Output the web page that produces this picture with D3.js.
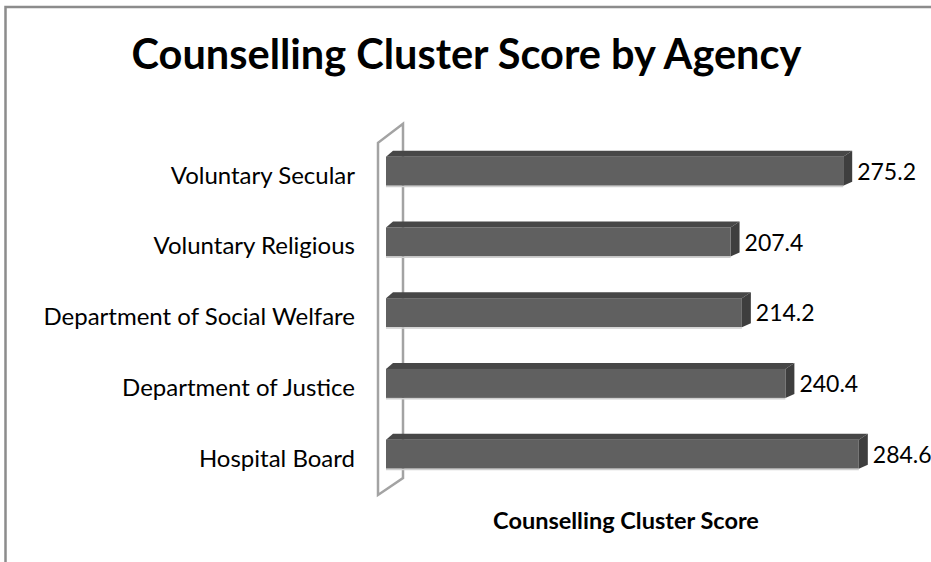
<!DOCTYPE html>
<html>
<head>
<meta charset="utf-8">
<script src="https://cdn.jsdelivr.net/npm/d3@7"></script>
<style>
  html, body { margin: 0; padding: 0; background: #fff; }
  svg { display: block; }
</style>
</head>
<body>
<svg id="chart" width="931" height="562"></svg>
<script>
// ---- data ----
const categories = ["Voluntary Secular", "Voluntary Religious", "Department of Social Welfare", "Department of Justice", "Hospital Board"];
const values = [275.2, 207.4, 214.2, 240.4, 284.6];
const valueLabels = ["275.2", "207.4", "214.2", "240.4", "284.6"];
const chartTitle = "Counselling Cluster Score by Agency";
const axisTitle = "Counselling Cluster Score";

const W = 931, H = 562;
const svg = d3.select("#chart");
const font = "Lato, 'Carlito', 'Open Sans', sans-serif";

// outer frame (cropped at right and bottom)
svg.append("path")
  .attr("d", `M5.5,${H + 10} V7 H${W + 10}`)
  .attr("fill", "none")
  .attr("stroke", "#8c8c8c")
  .attr("stroke-width", 2.5);

// scales
const x = d3.scaleLinear().domain([0, 300]).range([386, 884.4]);
const y = d3.scaleBand().domain(categories).range([135.8, 489.5])
  .paddingInner(0.59).paddingOuter(0.295);

const dx = 9, dy = -6;          // 3-D depth offset
const x0 = x(0);
const [r0, r1] = y.range();

// wall (thin 3-D panel at the value-axis origin)
const wallFront = x0 - 8, wallBack = x0 + 17;
svg.append("path")
  .attr("d", `M${wallFront},${r0 + 7} L${wallFront},${r1 + 5.5} L${wallBack},${r1 - 11.5} L${wallBack},${r0 - 12} Z`)
  .attr("fill", "none")
  .attr("stroke", "#a3a3a3")
  .attr("stroke-width", 2.5)
  .attr("stroke-linejoin", "miter");

// bars
const bars = svg.append("g").selectAll("g").data(categories).join("g");
bars.each(function (c, i) {
  const g = d3.select(this);
  const xl = x0, xr = x(values[i]);
  const yt = y(c), yb = y(c) + y.bandwidth();
  // top face
  g.append("path")
    .attr("d", `M${xl},${yt} L${xl + dx - 2},${yt + dy} L${xr + dx},${yt + dy} L${xr},${yt} Z`)
    .attr("fill", "#474747");
  // side face
  g.append("path")
    .attr("d", `M${xr},${yt} L${xr + dx},${yt + dy} L${xr + dx},${yb + dy + 2} L${xr},${yb} Z`)
    .attr("fill", "#3e3e3e");
  // front face
  g.append("rect")
    .attr("x", xl).attr("y", yt)
    .attr("width", xr - xl).attr("height", y.bandwidth())
    .attr("fill", "#606060");
  // light bottom edge
  g.append("line")
    .attr("x1", xl).attr("x2", xr)
    .attr("y1", yb + 0.75).attr("y2", yb + 0.75)
    .attr("stroke", "#cfcfcf").attr("stroke-width", 1.5);
  // value label
  g.append("text")
    .attr("x", xr + dx + 5)
    .attr("y", yt + y.bandwidth() / 2 + 3)
    .attr("dominant-baseline", "middle")
    .attr("font-family", font)
    .attr("font-size", 23)
    .attr("fill", "#000")
    .text(valueLabels[i]);
});

// category labels
svg.append("g").selectAll("text").data(categories).join("text")
  .attr("x", 355)
  .attr("y", d => y(d) + y.bandwidth() / 2 + 6.5)
  .attr("text-anchor", "end")
  .attr("dominant-baseline", "middle")
  .attr("font-family", font)
  .attr("font-size", 24)
  .attr("fill", "#000")
  .text(d => d);

// title
svg.append("text")
  .attr("x", 466.5).attr("y", 69)
  .attr("text-anchor", "middle")
  .attr("font-family", font)
  .attr("font-weight", "bold")
  .attr("font-size", 41.5)
  .attr("fill", "#000")
  .text(chartTitle);

// axis title
svg.append("text")
  .attr("x", 626).attr("y", 529)
  .attr("text-anchor", "middle")
  .attr("font-family", font)
  .attr("font-weight", "bold")
  .attr("font-size", 23.5)
  .attr("fill", "#000")
  .text(axisTitle);
</script>
</body>
</html>
